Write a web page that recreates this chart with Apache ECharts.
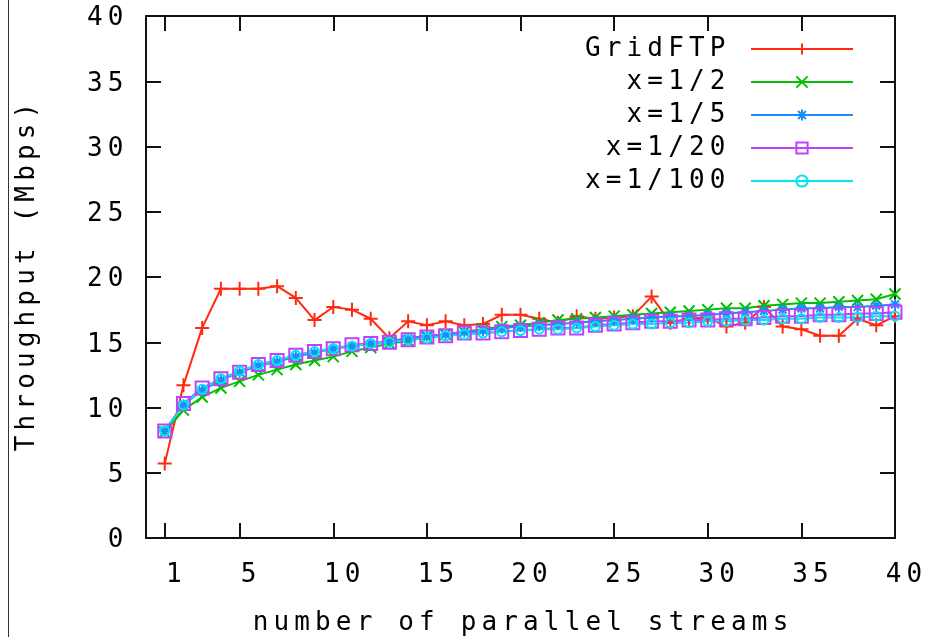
<!DOCTYPE html>
<html>
<head>
<meta charset="utf-8">
<script src="https://cdn.jsdelivr.net/npm/echarts@6/dist/echarts.min.js"></script>
<style>html,body{margin:0;padding:0;background:#fff;}#c{width:925px;height:637px;}</style>
</head>
<body>
<div id="c"></div>
<script>
const streams = [1,2,3,4,5,6,7,8,9,10,11,12,13,14,15,16,17,18,19,20,21,22,23,24,25,26,27,28,29,30,31,32,33,34,35,36,37,38,39,40];
const gridftp = [5.7,11.7,16.1,19.1,19.1,19.1,19.3,18.4,16.7,17.7,17.5,16.8,15.3,16.6,16.3,16.6,16.3,16.4,17.1,17.1,16.8,16.5,17.0,16.8,16.9,17.0,18.5,16.5,16.8,16.9,16.2,16.5,17.7,16.2,16.0,15.5,15.5,16.8,16.3,17.0];
const x1_2 = [8.1,9.8,10.8,11.5,12.0,12.5,12.9,13.3,13.6,13.9,14.3,14.6,14.9,15.1,15.4,15.6,15.8,16.0,16.2,16.3,16.5,16.7,16.8,16.9,17.0,17.1,17.2,17.3,17.4,17.5,17.6,17.6,17.8,17.9,18.0,18.0,18.1,18.2,18.3,18.7];
const x1_5 = [8.2,10.2,11.3,12.1,12.7,13.2,13.5,13.9,14.2,14.5,14.7,14.9,15.1,15.3,15.5,15.6,15.8,15.9,16.1,16.2,16.3,16.4,16.5,16.6,16.7,16.8,16.9,17.0,17.0,17.1,17.2,17.3,17.4,17.5,17.6,17.6,17.7,17.7,17.8,17.9];
const x1_20 = [8.2,10.3,11.5,12.2,12.7,13.3,13.6,14.0,14.3,14.5,14.8,14.9,15.0,15.2,15.4,15.5,15.7,15.7,15.8,15.9,16.0,16.1,16.1,16.3,16.4,16.5,16.6,16.6,16.7,16.7,16.8,16.8,16.9,17.0,17.0,17.1,17.1,17.2,17.2,17.3];
const x1_100 = [8.2,10.2,11.4,12.2,12.8,13.3,13.6,14.0,14.3,14.5,14.7,14.9,15.0,15.2,15.3,15.5,15.6,15.7,15.8,15.9,16.0,16.0,16.1,16.2,16.3,16.4,16.4,16.5,16.5,16.6,16.6,16.7,16.7,16.8,16.8,16.9,16.9,16.9,17.0,17.0];
const seriesNames = ['GridFTP','x=1/2','x=1/5','x=1/20','x=1/100'];
const xTickValues = [1,5,10,15,20,25,30,35,40];
const yTickValues = [0,5,10,15,20,25,30,35,40];
const xAxisTitle = 'number of parallel streams';
const yAxisTitle = 'Throughput (Mbps)';

const FONT = '"DejaVu Sans Mono", "Liberation Mono", monospace';
const ADV = 20.8;
function spaced(s){
  return String(s).split('').map(c => '{c|' + (c === ' ' ? '\u00a0' : c) + '}').join('');
}
const richC = { c: { width: ADV, align: 'center', fontFamily: FONT, fontSize: 26, color: '#000', lineHeight: 26 } };

const colors = ['#ff2a10','#00c000','#1a8cff','#c040ff','#00e6ee'];
const symbols = [
  'path://M5,0 L5,10 M0,5 L10,5',
  'path://M0,0 L10,10 M10,0 L0,10',
  'path://M5,0 L5,10 M0,5 L10,5 M1.5,1.5 L8.5,8.5 M8.5,1.5 L1.5,8.5',
  'path://M0,0 L10,0 L10,10 L0,10 Z',
  'path://M5,0 C7.8,0 10,2.2 10,5 C10,7.8 7.8,10 5,10 C2.2,10 0,7.8 0,5 C0,2.2 2.2,0 5,0 Z'
];
const sizes = [14,11,11,13,9];
const datasets = [gridftp, x1_2, x1_5, x1_20, x1_100];

const series = datasets.map((vals, i) => ({
  name: seriesNames[i],
  type: 'line',
  xAxisIndex: 0, yAxisIndex: 0,
  data: streams.map((s, k) => [s, vals[k]]),
  symbol: symbols[i],
  symbolSize: sizes[i],
  showAllSymbol: true,
  lineStyle: { color: colors[i], width: 2 },
  itemStyle: { color: 'rgba(0,0,0,0)', borderColor: colors[i], borderWidth: 2 },
  emphasis: { disabled: true },
  animation: false
}));

const axisLineStyle = { show: true, onZero: false, lineStyle: { color: '#111', width: 2 } };
const tickStyle = { color: '#111', width: 2 };
const chart = echarts.init(document.getElementById('c'), null, { renderer: 'canvas' });
chart.setOption({
  animation: false,
  backgroundColor: '#fff',
  grid: { left: 146, right: 30, top: 16, bottom: 99, containLabel: false, outerBoundsMode: 'none' },
  legend: {
    show: true,
    orient: 'vertical',
    right: 66, top: 31,
    align: 'right',
    itemWidth: 102, itemHeight: 14, itemGap: 7,
    data: seriesNames,
    formatter: n => spaced(n) + '{g|}',
    textStyle: { rich: Object.assign({ g: { width: 18 } }, richC) },
    inactiveColor: '#ccc'
  },
  xAxis: [{
    type: 'value', min: 0, max: 40, interval: 5, position: 'bottom',
    axisLine: axisLineStyle,
    axisTick: { show: true, inside: true, length: 15, lineStyle: tickStyle, customValues: xTickValues },
    axisLabel: { customValues: xTickValues, formatter: v => spaced(v), rich: richC, margin: 24, padding: [0,0,0,18] },
    splitLine: { show: false },
    name: spaced(xAxisTitle), nameLocation: 'middle', nameGap: 72,
    nameTextStyle: { rich: richC }
  }, {
    type: 'value', min: 0, max: 40, interval: 5, position: 'top',
    axisLine: axisLineStyle,
    axisTick: { show: true, inside: true, length: 15, lineStyle: tickStyle, customValues: xTickValues },
    axisLabel: { show: false }, splitLine: { show: false }
  }],
  yAxis: [{
    type: 'value', min: 0, max: 40, interval: 5, position: 'left',
    axisLine: axisLineStyle,
    axisTick: { show: true, inside: true, length: 15, lineStyle: tickStyle, customValues: yTickValues },
    axisLabel: { customValues: yTickValues, formatter: v => spaced(v), rich: richC, margin: 20, padding: [5,0,0,0] },
    splitLine: { show: false },
    name: spaced(yAxisTitle), nameLocation: 'middle', nameGap: 106,
    nameTextStyle: { rich: richC }
  }, {
    type: 'value', min: 0, max: 40, interval: 5, position: 'right',
    axisLine: axisLineStyle,
    axisTick: { show: true, inside: true, length: 15, lineStyle: tickStyle, customValues: yTickValues },
    axisLabel: { show: false }, splitLine: { show: false }
  }],
  graphic: [{ type: 'line', shape: { x1: 8.5, y1: 0, x2: 8.5, y2: 637 }, style: { stroke: '#333', lineWidth: 1 } }],
  series: series
});
</script>
</body>
</html>
